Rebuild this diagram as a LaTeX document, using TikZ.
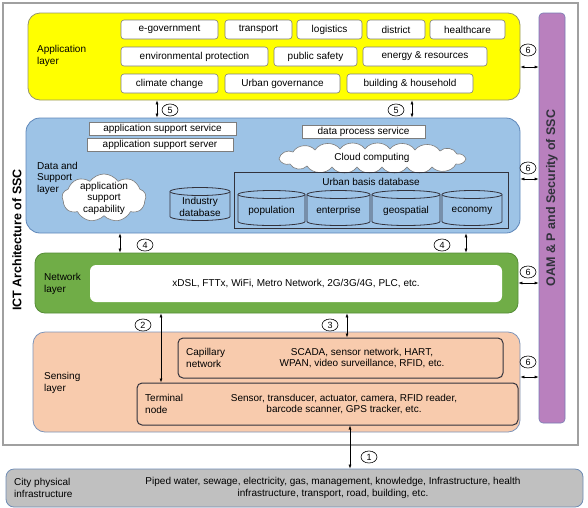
\documentclass[tikz,border=0pt]{standalone}
\usepackage{fontspec}
\setmainfont{Liberation Sans}
\usetikzlibrary{shapes.geometric,shapes.symbols,arrows.meta}
\definecolor{appY}{RGB}{255,255,0}
\definecolor{appYb}{RGB}{150,150,110}
\definecolor{dataB}{RGB}{157,195,230}
\definecolor{dataBb}{RGB}{95,135,185}
\definecolor{netG}{RGB}{112,173,71}
\definecolor{netGb}{RGB}{85,140,55}
\definecolor{senP}{RGB}{248,203,173}
\definecolor{senPb}{RGB}{125,148,185}
\definecolor{oamP}{RGB}{185,128,190}
\definecolor{oamPb}{RGB}{120,125,180}
\definecolor{cityG}{RGB}{192,192,192}
\definecolor{cityGb}{RGB}{110,140,180}
\definecolor{frameG}{RGB}{160,160,160}
\definecolor{boxgray}{RGB}{125,125,125}
\definecolor{darkline}{RGB}{50,50,60}
\newcommand\dbcyl[6]{%
 \pgfmathsetmacro\cxa{#2-#4/2}\pgfmathsetmacro\cxb{#2+#4/2}%
 \pgfmathsetmacro\cya{#3-#5/2+4}\pgfmathsetmacro\cyb{#3+#5/2-4}%
 \pgfmathsetmacro\crx{#4/2}%
 \filldraw[cylstyle] (\cxa,\cya) -- (\cxa,\cyb) arc[start angle=180,end angle=0,x radius=\crx,y radius=4] -- (\cxb,\cya) arc[start angle=0,end angle=-180,x radius=\crx,y radius=4] -- cycle;
 \draw[cylstyle] (\cxa,\cya) arc[start angle=180,end angle=0,x radius=\crx,y radius=4];
 \node[align=center] (#1) at (#2,#3+3) {#6};
}
\begin{document}
\begin{tikzpicture}[x=1pt,y=-1pt,
 every node/.style={font=\fontsize{10}{11.5}\selectfont, inner sep=0pt},
 appbox/.style={draw=boxgray, fill=white, rounded corners=3pt, line width=0.6pt, minimum height=19pt},
 whitebox/.style={draw=boxgray, fill=white, line width=0.6pt, minimum height=13pt},
 darkbox/.style={draw=darkline, line width=1pt, rounded corners=5pt},
 cylstyle/.style={draw=darkline, fill=dataB, line width=0.8pt},
 num/.style={ellipse, draw, fill=white, line width=0.6pt, minimum width=16pt, minimum height=12pt, font=\fontsize{9}{9}\selectfont},
 dbl/.style={{Latex[length=4pt,width=3pt]}-{Latex[length=4pt,width=3pt]}, line width=0.6pt},
 lbl/.style={anchor=west, align=left},
 cloudshape/.style={cloud, draw=boxgray, fill=white, line width=0.6pt},
 cloudline/.style={draw=boxgray, fill=white, line width=0.6pt}]
\useasboundingbox (0,0) rectangle (588,507);
% outer frame
\node[draw=frameG, line width=1.2pt, minimum width=575pt, minimum height=442pt] (frame) at (290.5,224) {};
% purple bar
\node[draw=oamPb, fill=oamP, rounded corners=4pt, line width=0.6pt, minimum width=26pt, minimum height=410pt] (oam) at (552,218) {};
\node[rotate=90, text=darkline, font=\bfseries\fontsize{12.5}{13}\selectfont] (oamT) at (552,198) {OAM \& P and Security of SSC};
\node[rotate=90, font=\bfseries\fontsize{12.5}{13}\selectfont] (ict) at (17,240) {ICT Architecture of SSC};
% application layer
\node[draw=appYb, fill=appY, rounded corners=12pt, line width=0.8pt, minimum width=492pt, minimum height=87pt] (app) at (274,56.5) {};
\node[lbl] (appL) at (37,56) {Application\\layer};
\node[appbox, minimum width=97pt] (egov) at (169.5,29.5) {e-government};
\node[appbox, minimum width=67pt] (trans) at (258.5,29.5) {transport};
\node[appbox, minimum width=65pt] (logi) at (329.5,29.5) {logistics};
\node[appbox, minimum width=58pt] (dist) at (396,29.5) {district};
\node[appbox, minimum width=75pt] (health) at (467.5,29.5) {healthcare};
\node[appbox, minimum width=147pt] (env) at (194.5,56.5) {environmental protection};
\node[appbox, minimum width=83pt] (pubs) at (315.5,56.5) {public safety};
\node[appbox, minimum width=124pt] (energy) at (425,56.5) {energy \& resources};
\node[appbox, minimum width=97pt] (clim) at (169.5,83.5) {climate change};
\node[appbox, minimum width=115pt] (ugov) at (282.5,83.5) {Urban governance};
\node[appbox, minimum width=126pt] (build) at (410,83.5) {building \& household};
% data and support layer
\node[draw=dataBb, fill=dataB, rounded corners=14pt, line width=0.8pt, minimum width=494pt, minimum height=115pt] (data) at (273,175.5) {};
\node[lbl] (dataL) at (37,178) {Data and\\Support\\layer};
\node[whitebox, minimum width=147pt] (ass) at (162.5,128.5) {application support service};
\node[whitebox, minimum width=146pt] (asv) at (160,144.5) {application support server};
\node[whitebox, minimum width=123pt] (dps) at (363.5,131.5) {data process service};
% cloud computing (hand-drawn elongated cloud)
\draw[cloudline] (279,159) to[bend left=55] (293,152) to[bend left=55] (315,150)
  to[bend left=55] (340,149) to[bend left=55] (365,149) to[bend left=55] (390,149)
  to[bend left=55] (415,150) to[bend left=55] (440,151) to[bend left=55] (457,154)
  to[bend left=40] (466,159) to[bend left=40] (456,164) to[bend left=55] (432,167)
  to[bend left=55] (407,167) to[bend left=55] (382,167) to[bend left=55] (357,167)
  to[bend left=55] (332,167) to[bend left=55] (307,166) to[bend left=55] (290,164)
  to[bend left=40] (279,159) -- cycle;
\node (ccT) at (372,158) {Cloud computing};
\node[cloudshape, cloud puffs=9, cloud puff arc=110, aspect=1.7, minimum width=84pt, minimum height=48pt] (ascC) at (104,198) {};
\node[align=center] (ascT) at (104,198) {application\\support\\capability};
\dbcyl{indDB}{200}{204}{60}{33}{Industry\\database}
\node[draw=darkline, line width=1pt, minimum width=274pt, minimum height=56pt] (urban) at (371,200) {};
\node (urbanT) at (371,182) {Urban basis database};
\dbcyl{pop}{271.5}{208}{67}{35}{population}
\dbcyl{ent}{338.5}{208}{63}{35}{enterprise}
\dbcyl{geo}{406}{208}{68}{35}{geospatial}
\dbcyl{eco}{472}{208}{60}{35}{economy}
% network layer
\node[draw=netGb, fill=netG, rounded corners=10pt, line width=0.8pt, minimum width=483pt, minimum height=60pt] (net) at (276.5,283) {};
\node[lbl] (netL) at (44,284) {Network\\layer};
\node[fill=white, rounded corners=6pt, minimum width=412pt, minimum height=37pt] (netB) at (296,283.5) {xDSL, FTTx, WiFi, Metro Network, 2G/3G/4G, PLC, etc.};
% sensing layer
\node[draw=senPb, fill=senP, rounded corners=12pt, line width=0.8pt, minimum width=487pt, minimum height=100pt] (sens) at (276.5,382) {};
\node[lbl] (sensL) at (44,383) {Sensing\\layer};
\node[darkbox, minimum width=325pt, minimum height=40pt] (cap) at (340.5,358) {};
\node[lbl] (capL) at (186,358) {Capillary\\network};
\node[align=center] (capT) at (362,358) {SCADA, sensor network, HART,\\WPAN, video surveillance, RFID, etc.};
\node[darkbox, minimum width=381pt, minimum height=42pt] (term) at (327.5,404) {};
\node[lbl] (termL) at (145,404) {Terminal\\node};
\node[align=center] (termT) at (344,404) {Sensor, transducer, actuator, camera, RFID reader,\\barcode scanner, GPS tracker, etc.};
% city infrastructure
\node[draw=cityGb, fill=cityG, rounded corners=8pt, line width=0.8pt, minimum width=577pt, minimum height=38pt] (city) at (294.5,488) {};
\node[lbl] (cityL) at (14,488) {City physical\\infrastructure};
\node[align=center] (cityT) at (333,488) {Piped water, sewage, electricity, gas, management, knowledge, Infrastructure, health\\infrastructure, transport, road, building, etc.};
% connector x/y positions
\coordinate (x5a) at (157,0);
\coordinate (x5b) at (412,0);
\coordinate (x4a) at (120,0);
\coordinate (x4b) at (466,0);
\coordinate (x2) at (161,0);
\coordinate (x3) at (347,0);
\coordinate (x1) at (350,0);
\coordinate (y6a) at (0,67);
\coordinate (y6b) at (0,179);
\coordinate (y6c) at (0,283);
\coordinate (y6d) at (0,377);
% connectors
\draw[dbl] (app.south -| x5a) -- (data.north -| x5a);
\draw[dbl] (app.south -| x5b) -- (data.north -| x5b);
\draw[dbl] (data.south -| x4a) -- (net.north -| x4a);
\draw[dbl] (data.south -| x4b) -- (net.north -| x4b);
\draw[dbl] (net.south -| x2) -- (term.north -| x2);
\draw[dbl] (net.south -| x3) -- (cap.north -| x3);
\draw[dbl] (term.south -| x1) -- (city.north -| x1);
\draw[dbl] (app.east |- y6a) -- (oam.west |- y6a);
\draw[dbl] (data.east |- y6b) -- (oam.west |- y6b);
\draw[dbl] (net.east |- y6c) -- (oam.west |- y6c);
\draw[dbl] (sens.east |- y6d) -- (oam.west |- y6d);
% numbers
\node[num] (n5a) at (170,110) {5};
\node[num] (n5b) at (396,110) {5};
\node[num] (n4a) at (145,245) {4};
\node[num] (n4b) at (442,245) {4};
\node[num] (n2) at (143,325) {2};
\node[num] (n3) at (330,325) {3};
\node[num] (n1) at (369,457) {1};
\node[num] (n6a) at (528,50) {6};
\node[num] (n6b) at (528,168) {6};
\node[num] (n6c) at (528,272) {6};
\node[num] (n6d) at (528,362) {6};
\end{tikzpicture}
\end{document}
